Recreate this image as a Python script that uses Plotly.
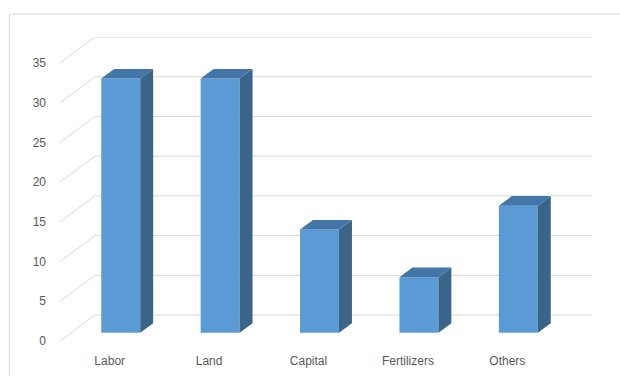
import plotly.graph_objects as go

categories = ["Labor", "Land", "Capital", "Fertilizers", "Others"]
values = [32, 32, 13, 7, 16]
y_ticks = [0, 5, 10, 15, 20, 25, 30, 35]

# oblique projection of the depth axis
DX = 0.352   # category units shift for full depth
DY = 3.27    # value units shift for full depth
D0 = 0.315   # front depth of bars
DD = 0.37    # bar depth
BW = 0.392   # bar width

FRONT = "#5B9BD5"
SIDE = "#3A6589"
TOP = "#4276A8"
GRID = "#D9D9D9"
TEXT = "#595959"

fig = go.Figure()

# gridlines: side wall diagonal + back wall horizontal (drawn below traces)
shapes = []
for v in y_ticks:
    shapes.append(dict(type="path", xref="x", yref="y", layer="below",
                       path=f"M 0 {v} L {DX} {v + DY} L {len(categories) + DX} {v + DY}",
                       line=dict(color=GRID, width=1)))

# side and top faces
for i, v in enumerate(values):
    xl = i + 0.5 + DX * D0 - BW / 2
    xr = xl + BW
    b = DY * D0
    ox, oy = DX * DD, DY * DD
    fig.add_trace(go.Scatter(
        x=[xr, xr + ox, xr + ox, xr, xr],
        y=[b, b + oy, b + oy + v, b + v, b],
        fill="toself", fillcolor=SIDE, mode="lines", line=dict(width=0, color=SIDE),
        hoverinfo="skip", showlegend=False))
    fig.add_trace(go.Scatter(
        x=[xl, xr, xr + ox, xl + ox, xl],
        y=[b + v, b + v, b + v + oy, b + v + oy, b + v],
        fill="toself", fillcolor=TOP, mode="lines", line=dict(width=0, color=TOP),
        hoverinfo="skip", showlegend=False))

# front faces
fig.add_trace(go.Bar(
    x=[i + 0.5 + DX * D0 for i in range(len(categories))],
    y=values, base=DY * D0, width=BW,
    marker=dict(color=FRONT, line=dict(width=0)),
    showlegend=False, hoverinfo="skip"))

shapes.append(dict(type="rect", xref="paper", yref="paper",
                   x0=(9.5 - 60) / 532, x1=1.2, y0=-0.3, y1=(341 - 14) / 304,
                   line=dict(color=GRID, width=1), fillcolor="rgba(0,0,0,0)", layer="below"))

fig.update_layout(
    width=620, height=376,
    margin=dict(l=60, r=28, t=37, b=35, autoexpand=False),
    paper_bgcolor="white", plot_bgcolor="white",
    font=dict(family="Liberation Sans, Arial, sans-serif", size=12, color=TEXT),
    xaxis=dict(range=[0, len(categories) + DX], showgrid=False, zeroline=False,
               showline=False, ticks="",
               tickvals=[i + 0.5 for i in range(len(categories))],
               ticktext=categories, ticklabelstandoff=11, fixedrange=True),
    yaxis=dict(range=[0, 35 + DY], showgrid=False, zeroline=False, showline=False,
               ticks="", tickvals=y_ticks, ticktext=[str(t) for t in y_ticks],
               ticklabelstandoff=13, fixedrange=True),
    shapes=shapes,
)

fig.write_html("out.html")
